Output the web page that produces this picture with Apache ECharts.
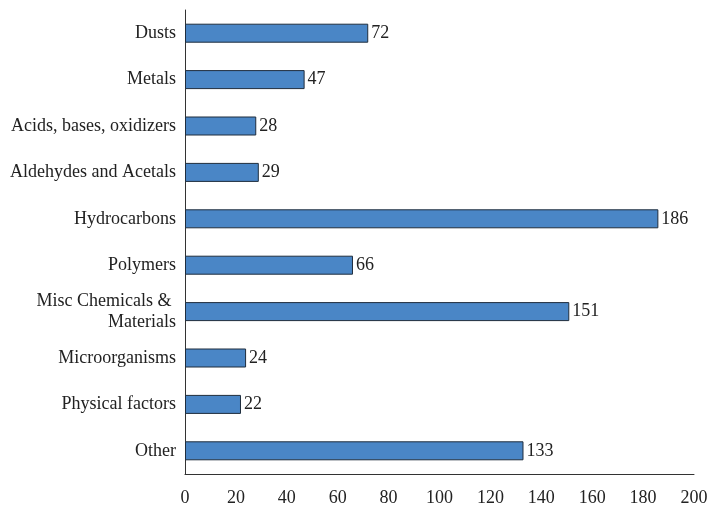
<!DOCTYPE html>
<html><head><meta charset="utf-8">
<script src="https://cdn.jsdelivr.net/npm/echarts@6/dist/echarts.min.js"></script>
<style>html,body{margin:0;padding:0;background:#fff}#c{width:725px;height:508px}</style>
</head><body><div id="c"></div>
<script>
const categories = ["Dusts","Metals","Acids, bases, oxidizers","Aldehydes and Acetals","Hydrocarbons","Polymers","Misc Chemicals & \nMaterials","Microorganisms","Physical factors","Other"];
const values = [72,47,28,29,186,66,151,24,22,133];
const xTicks = {min:0, max:200, interval:20};
const font = "'Liberation Serif', 'Times New Roman', serif";
const chart = echarts.init(document.getElementById('c'));
chart.setOption({
  animation:false,
  grid:{left:185,right:31,top:10,bottom:34,containLabel:false},
  xAxis:{type:'value',min:xTicks.min,max:xTicks.max,interval:xTicks.interval,
    axisLine:{show:true,lineStyle:{color:'#333',width:1}},axisTick:{show:false},splitLine:{show:false},
    axisLabel:{fontFamily:font,fontSize:18,color:'#222',margin:15}},
  yAxis:{type:'category',inverse:true,data:categories,
    axisLine:{show:true,lineStyle:{color:'#333',width:1}},axisTick:{show:false},
    axisLabel:{fontFamily:font,fontSize:18,color:'#222',margin:9,lineHeight:21}},
  series:[{type:'bar',data:values,barWidth:19,
    itemStyle:{color:'#4a86c6',borderColor:'#1f2d3d',borderWidth:1},
    label:{show:true,position:'right',distance:3,fontFamily:font,fontSize:18,color:'#222'}}]
});
</script></body></html>
